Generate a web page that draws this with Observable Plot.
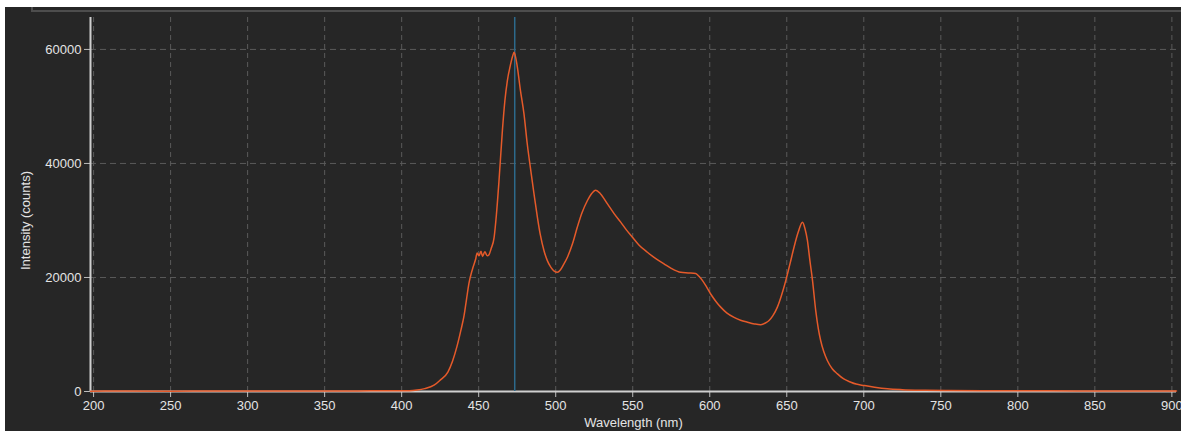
<!DOCTYPE html>
<html><head><meta charset="utf-8">
<script src="https://cdn.jsdelivr.net/npm/d3@7"></script>
<script src="https://cdn.jsdelivr.net/npm/@observablehq/plot@0.6"></script>
<style>
html,body{margin:0;padding:0;background:#fff;width:1181px;height:431px;overflow:hidden;}
#panel{position:absolute;left:5px;top:7px;width:1176px;height:424px;background:#262626;}
#frame{position:absolute;left:31px;top:7px;width:1150px;height:3px;border-left:2px solid #4d4d4d;border-bottom:2px solid #4d4d4d;}
#chart{position:absolute;left:0;top:0;}
</style></head><body>
<div id="panel"></div><div id="frame"></div><div id="chart"></div>
<script>
const wavelengths = [198,220,250,280,300,330,360,380,395,405,410,415,421,425,430,433,436,438.5,440.5,442,443.7,446,448,449,450.2,451.5,452.5,454,455.5,456.7,458,460,461.5,463.2,465.4,467,468.6,470.8,472,473,474,475.1,477,479.4,481.5,483.8,486,488.1,490,492.4,494.5,496.8,499,501.1,503,505,507.6,511,514,517,520.6,523,526,529,533.6,537.9,542.2,546,549.8,554,559.5,565,570.3,575,581.2,586,590.9,593,595.2,598,600.6,604,607.1,611,615.8,620,624.5,629,633,636,638.5,641,643.9,646.5,649.4,652,654.7,657.5,660.2,661.8,663.4,665,666.7,668.8,670.5,672,674,676.4,679.5,682.9,687,691.6,695,700.2,707,715.4,725,740,755,780,820,860,903];
const counts = [60,80,60,90,70,100,90,120,150,150,250,500,1100,2000,3400,5300,8000,10800,13300,16000,19000,21500,23200,24300,23800,24600,23700,24500,23800,24000,25000,27000,31000,37000,45800,51000,54500,57500,58800,59500,58600,56900,53000,48700,43500,38800,34500,30600,27500,24700,23000,21800,21100,20900,21300,22200,23550,26000,28800,31300,33500,34600,35300,34700,32900,31200,29700,28300,27060,25700,24430,23300,22400,21600,20900,20800,20700,20200,19500,18300,17100,15800,14800,13800,13000,12500,12150,11850,11700,12000,12450,13300,14800,16800,19500,22300,25300,28000,29700,28600,26500,23000,19500,14200,11000,8950,7000,5400,4000,3100,2200,1630,1300,1050,750,470,320,220,170,130,110,100,100];
const xTicks = [200,250,300,350,400,450,500,550,600,650,700,750,800,850,900];
const yTicks = [0,20000,40000,60000];
const markerWavelength = [473.4];
const xLabel = "Wavelength (nm)";
const yLabel = "Intensity (counts)";

const data = wavelengths.map((w,i)=>({nm:w, counts:counts[i]}));
const font = "'Liberation Sans', Arial, Helvetica, sans-serif";

const chart = Plot.plot({
  width:1181, height:431,
  marginLeft:90, marginRight:5, marginTop:17, marginBottom:40,
  style:{background:"transparent", color:"#e4e4e4", fontFamily:font, fontSize:"13px", overflow:"visible"},
  x:{domain:[198,903]},
  y:{domain:[0,65600]},
  marks:[
    Plot.gridX(xTicks,{stroke:"#5a5a5a", strokeOpacity:1, strokeDasharray:"5,4"}),
    Plot.gridY(yTicks.filter(d=>d>0),{stroke:"#5a5a5a", strokeOpacity:1, strokeDasharray:"6,4"}),
    Plot.axisX(xTicks,{tickSize:6, tickPadding:3, label:null, stroke:"#bdbdbd", fill:"#e4e4e4", fontSize:13}),
    Plot.axisY(yTicks,{tickSize:6, tickPadding:3, label:null, tickFormat:d=>String(d), stroke:"#bdbdbd", fill:"#e4e4e4", fontSize:13}),
    Plot.ruleY([0],{stroke:"#cfcfcf", strokeWidth:2}),
    Plot.ruleX([198],{stroke:"#cfcfcf", strokeWidth:2}),
    Plot.ruleX(markerWavelength,{stroke:"#2d6a8c", strokeWidth:1.5}),
    Plot.line(data,{x:"nm", y:"counts", stroke:"#e55a2a", strokeWidth:1.5, curve:"monotone-x"}),
    Plot.text([xLabel],{frameAnchor:"bottom", textAnchor:"middle", dy:35, text:d=>d, fill:"#e4e4e4", fontSize:13}),
    Plot.text([yLabel],{frameAnchor:"left", textAnchor:"middle", rotate:-90, dx:-65, dy:16, text:d=>d, fill:"#e4e4e4", fontSize:13})
  ]
});
document.getElementById("chart").appendChild(chart);
</script>
</body></html>
